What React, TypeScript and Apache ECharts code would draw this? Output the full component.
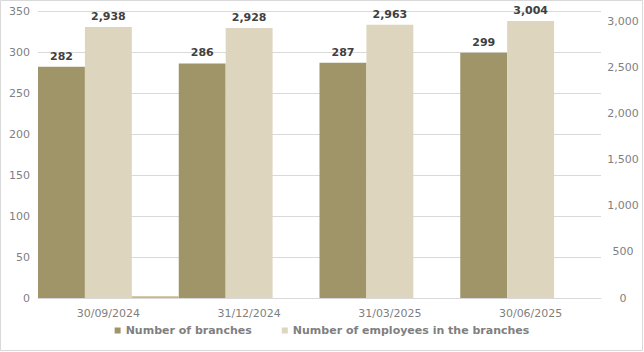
import React, { useEffect, useRef } from "react";
import * as echarts from "echarts";

const categories = ["30/09/2024", "31/12/2024", "31/03/2025", "30/06/2025"];
const branches = [282, 286, 287, 299];
const employees = [2938, 2928, 2963, 3004];
const stray = [2, 0, 0, 0];
const leftTicks = { min: 0, max: 350, interval: 50 };
const rightTicks = { min: 0, max: 3112, interval: 500 };

const FONT = "DejaVu Sans";
const fmt = (v: number) => v.toLocaleString("en-US");

export default function App() {
  const ref = useRef<HTMLDivElement>(null);
  useEffect(() => {
    document.body.style.margin = "0";
    const chart = echarts.init(ref.current!, null, { renderer: "svg" });
    chart.setOption({
      animation: false,
      backgroundColor: "#ffffff",
      textStyle: { fontFamily: FONT },
      graphic: [
        {
          type: "rect",
          shape: { x: 0.5, y: 0.5, width: 642, height: 350 },
          style: { fill: "none", stroke: "#d9d9d9", lineWidth: 1 },
          silent: true,
        },
      ],
      grid: { left: 38, right: 43, top: 11, bottom: 54, containLabel: false },
      legend: {
        data: ["Number of branches", "Number of employees in the branches"],
        bottom: 11,
        left: "center",
        icon: "rect",
        itemWidth: 6,
        itemHeight: 6,
        itemGap: 30,
        textStyle: { fontFamily: FONT, fontSize: 11, fontWeight: "bold", color: "#7f7f7f" },
      },
      xAxis: {
        type: "category",
        data: categories,
        axisTick: { show: false },
        axisLine: { lineStyle: { color: "#d9d9d9" } },
        axisLabel: { fontFamily: FONT, fontSize: 11, color: "#7f7f7f", margin: 10 },
      },
      yAxis: [
        {
          type: "value",
          ...leftTicks,
          splitLine: { lineStyle: { color: "#d9d9d9" } },
          axisLine: { show: false },
          axisTick: { show: false },
          axisLabel: { fontFamily: FONT, fontSize: 11, color: "#7f7f7f", margin: 8 },
        },
        {
          type: "value",
          ...rightTicks,
          splitLine: { show: false },
          axisLine: { show: false },
          axisTick: { show: false },
          axisLabel: {
            fontFamily: FONT,
            fontSize: 11,
            color: "#7f7f7f",
            margin: 22,
            align: "center",
            showMaxLabel: false,
            formatter: (v: number) => fmt(v),
          },
        },
      ],
      series: [
        {
          name: "Number of branches",
          type: "bar",
          yAxisIndex: 0,
          data: branches,
          barGap: "0%",
          barCategoryGap: "0%",
          itemStyle: { color: "#a09569" },
          label: {
            show: true,
            position: "top",
            distance: 5,
            fontFamily: FONT,
            fontSize: 11,
            fontWeight: "bold",
            color: "#404040",
            formatter: (p: any) => fmt(p.value),
          },
        },
        {
          name: "Number of employees in the branches",
          type: "bar",
          yAxisIndex: 1,
          data: employees,
          barGap: "0%",
          barCategoryGap: "0%",
          itemStyle: { color: "#ddd5bd" },
          label: {
            show: true,
            position: "top",
            distance: 5,
            fontFamily: FONT,
            fontSize: 11,
            fontWeight: "bold",
            color: "#404040",
            formatter: (p: any) => fmt(p.value),
          },
        },
        {
          name: "stray",
          type: "bar",
          yAxisIndex: 0,
          data: stray,
          barGap: "0%",
          barCategoryGap: "0%",
          itemStyle: { color: "#c9b88c" },
          silent: true,
        },
      ],
    });
    return () => chart.dispose();
  }, []);
  return <div ref={ref} style={{ width: 644, height: 352 }} />;
}
